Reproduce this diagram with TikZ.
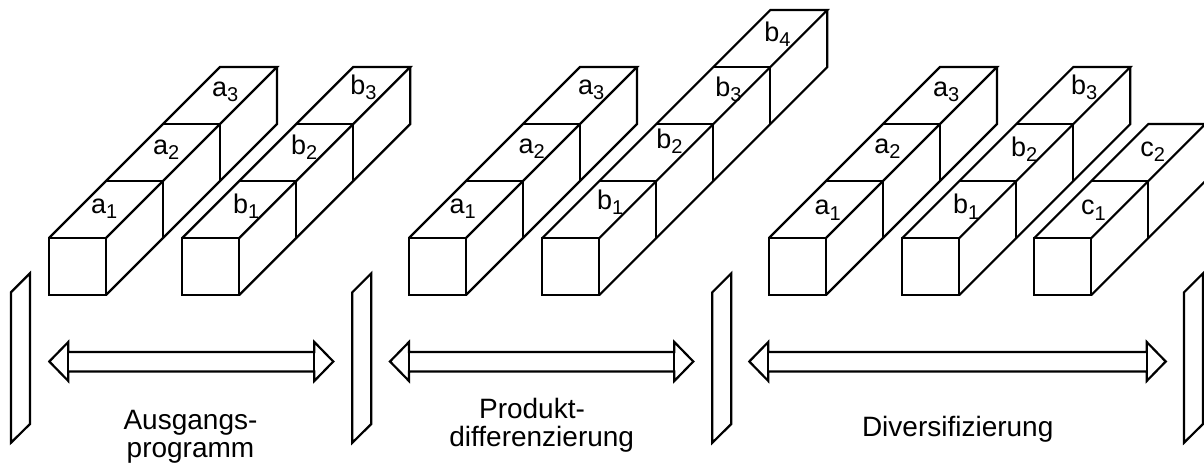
\documentclass[tikz,border=0pt]{standalone}
\usepackage{fontspec}
\setmainfont{Liberation Sans}
% lowered index digit, as in a1, b2 ...
\newcommand\idx[1]{\raisebox{-2.5pt}{\fontsize{10}{12}\selectfont #1}}
% cube geometry (pixel units)
\newcommand\csz{57}
\newcommand\ctop{238}
\newcommand\cbot{295}
% a row of cubes seen in oblique projection: #1 = left x of front face, #2 = number of cubes
\newcommand\cubecolumn[2]{%
  \pgfmathsetmacro\xa{#1}%
  \pgfmathsetmacro\xb{#1+\csz}%
  \pgfmathsetmacro\xc{#1+#2*\csz}%
  \pgfmathsetmacro\xd{#1+(#2+1)*\csz}%
  \pgfmathsetmacro\yt{\ctop-#2*\csz}%
  \pgfmathsetmacro\yb{\cbot-#2*\csz}%
  \pgfmathtruncatemacro\nm{#2-1}%
  \draw[edge] (\xa,\ctop) rectangle (\xb,\cbot);
  \draw[edge] (\xa,\ctop) -- (\xc,\yt) -- (\xd,\yt) -- (\xb,\ctop);
  \draw[edge] (\xb,\cbot) -- (\xd,\yb) -- (\xd,\yt);
  \foreach \k in {1,...,\nm}{
    \draw[edge] ({#1+\k*\csz},{\ctop-\k*\csz}) -- ({#1+(\k+1)*\csz},{\ctop-\k*\csz})
                -- ({#1+(\k+1)*\csz},{\cbot-\k*\csz});
  }%
}
% slanted wall plate: #1 = x of its left edge
\newcommand\wallplate[1]{%
  \draw[edge] (#1,292.3) -- ({#1+19},273.3) -- ({#1+19},424) -- (#1,442.7) -- cycle;
}
% hollow double arrow: #1 = left tip x, #2 = right tip x
\newcommand\spanarrow[2]{%
  \draw[edge] (#1,361.5) -- ({#1+19},342) -- ({#1+19},352) -- ({#2-19},352)
     -- ({#2-19},342) -- (#2,361.5) -- ({#2-19},381) -- ({#2-19},371.5)
     -- ({#1+19},371.5) -- ({#1+19},381) -- cycle;
  \draw[edge] ({#1+19},352) -- ({#1+19},371.5);
  \draw[edge] ({#2-19},352) -- ({#2-19},371.5);
}
\begin{document}
\begin{tikzpicture}[x=0.5pt,y=-0.5pt,
  edge/.style={draw=black,line width=1.1pt},
  cubelabel/.style={inner sep=0pt,anchor=base west,font=\fontsize{13.5}{16}\selectfont},
  caption/.style={inner sep=0pt,anchor=base,font=\fontsize{14}{16}\selectfont}]
\useasboundingbox (0,0) rectangle (1204,470);

% cube rows
\cubecolumn{49}{3}
\cubecolumn{182.3}{3}
\cubecolumn{409}{3}
\cubecolumn{542.3}{4}
\cubecolumn{769}{3}
\cubecolumn{902.3}{3}
\cubecolumn{1034.3}{2}

% cube labels
\node[cubelabel] (ga1) at (90.7,213.3) {a\idx{1}};
\node[cubelabel] (ga2) at (152.7,155) {a\idx{2}};
\node[cubelabel] (ga3) at (211.7,96.7) {a\idx{3}};
\node[cubelabel] (gb1) at (232.7,213.3) {b\idx{1}};
\node[cubelabel] (gb2) at (290.7,155) {b\idx{2}};
\node[cubelabel] (gb3) at (350,95) {b\idx{3}};

\node[cubelabel] (pa1) at (449.3,213.3) {a\idx{1}};
\node[cubelabel] (pa2) at (518.3,154) {a\idx{2}};
\node[cubelabel] (pa3) at (577.7,95) {a\idx{3}};
\node[cubelabel] (pb1) at (596.7,209.3) {b\idx{1}};
\node[cubelabel] (pb2) at (656,148.3) {b\idx{2}};
\node[cubelabel] (pb3) at (715,96.7) {b\idx{3}};
\node[cubelabel] (pb4) at (764,41.7) {b\idx{4}};

\node[cubelabel] (da1) at (814.3,215) {a\idx{1}};
\node[cubelabel] (da2) at (874,154) {a\idx{2}};
\node[cubelabel] (da3) at (932.7,96.7) {a\idx{3}};
\node[cubelabel] (db1) at (952.7,214) {b\idx{1}};
\node[cubelabel] (db2) at (1010.7,156.7) {b\idx{2}};
\node[cubelabel] (db3) at (1070.7,95) {b\idx{3}};
\node[cubelabel] (dc1) at (1080.7,215) {c\idx{1}};
\node[cubelabel] (dc2) at (1140,156.7) {c\idx{2}};

% wall plates
\wallplate{11}
\wallplate{352.3}
\wallplate{712.3}
\wallplate{1184}

% range arrows
\spanarrow{49.3}{333.3}
\spanarrow{390}{693.3}
\spanarrow{749.3}{1165.7}

% captions
\node[caption] (cap1a) at (190.5,429.5) {Ausgangs-};
\node[caption] (cap1b) at (190.5,457) {programm};
\node[caption] (cap2a) at (532,418.3) {Produkt-};
\node[caption] (cap2b) at (541.7,446.7) {differenzierung};
\node[caption] (cap3) at (957.7,436) {Diversifizierung};
\end{tikzpicture}
\end{document}
